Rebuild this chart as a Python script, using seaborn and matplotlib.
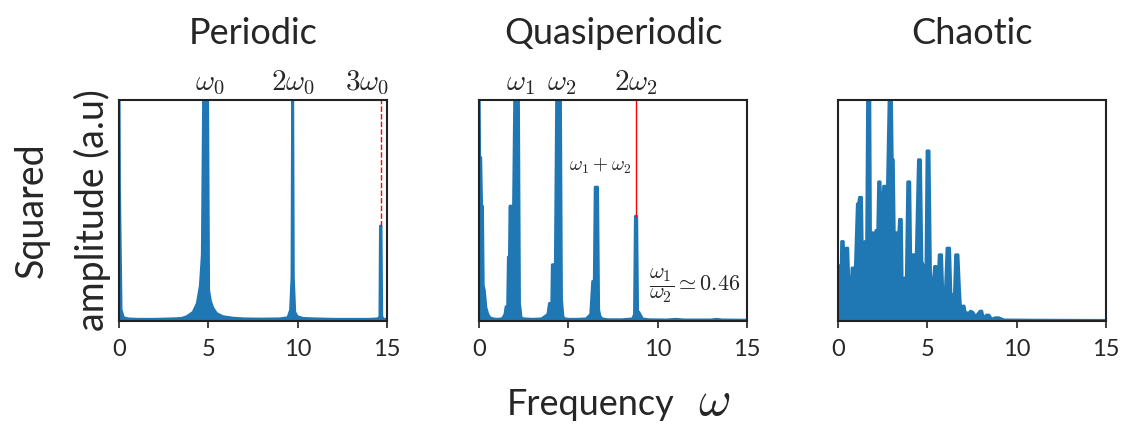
import matplotlib
matplotlib.use("Agg")
import matplotlib.pyplot as plt
import seaborn as sns
import numpy as np

# ---------------- data ----------------
titles = ["Periodic", "Quasiperiodic", "Chaotic"]
xticks = [0, 5, 10, 15]

periodic_freq = [0.0, 0.03, 0.12, 0.25, 0.5, 1.0, 2.0, 3.0, 3.5, 3.8, 4.15, 4.38, 4.55, 4.66, 4.75,
                 4.82, 4.9, 4.95, 5.02, 5.12, 5.25, 5.45, 5.8, 6.4, 7.0, 8.0, 9.0, 9.45, 9.6, 9.68,
                 9.72, 9.76, 9.84, 9.98, 10.3, 11.0, 12.0, 13.0, 14.0, 14.5, 14.6, 14.63, 14.67,
                 14.71, 14.8, 15.0]
periodic_amp = [1.2, 0.6, 0.05, 0.015, 0.01, 0.008, 0.008, 0.01, 0.012, 0.02, 0.04, 0.08, 0.16,
                0.3, 1.2, 1.2, 1.2, 1.2, 0.14, 0.09, 0.06, 0.035, 0.02, 0.013, 0.01, 0.009, 0.01,
                0.015, 0.05, 0.2, 1.2, 0.2, 0.04, 0.02, 0.012, 0.01, 0.008, 0.008, 0.008, 0.01,
                0.02, 0.43, 0.43, 0.02, 0.008, 0.008]

quasi_freq = [0.0, 0.04, 0.1, 0.15, 0.2, 0.24, 0.3, 0.39, 0.5, 0.61, 0.8, 1.0, 1.3, 1.45, 1.51,
              1.6, 1.64, 1.7, 1.73, 1.93, 2.02, 2.2, 2.27, 2.36, 2.5, 3.0, 3.5, 3.85, 3.94, 4.07,
              4.1, 4.27, 4.36, 4.55, 4.62, 4.7, 4.8, 5.0, 5.5, 6.0, 6.25, 6.36, 6.45, 6.5, 6.64,
              6.7, 6.78, 6.9, 7.2, 8.0, 8.6, 8.7, 8.75, 8.83, 8.88, 8.95, 9.15, 9.5, 10.5, 11.0,
              11.5, 13.0, 13.3, 13.6, 15.0]
quasi_amp = [1.2, 0.74, 0.74, 0.52, 0.52, 0.16, 0.14, 0.06, 0.03, 0.015, 0.01, 0.008, 0.01, 0.03,
             0.065, 0.065, 0.29, 0.29, 0.52, 0.52, 1.2, 1.2, 0.08, 0.015, 0.01, 0.008, 0.01,
             0.03, 0.08, 0.08, 0.255, 0.255, 1.2, 1.2, 0.1, 0.02, 0.01, 0.008, 0.008, 0.01, 0.03,
             0.18, 0.18, 0.606, 0.606, 0.05, 0.02, 0.01, 0.006, 0.006, 0.01, 0.03, 0.474, 0.474,
             0.04, 0.04, 0.01, 0.006, 0.005, 0.008, 0.005, 0.005, 0.008, 0.005, 0.004]

chaotic_freq = [0.0, 0.02, 0.1, 0.14, 0.2, 0.3, 0.35, 0.45, 0.55, 0.6, 0.66, 0.72, 0.78, 0.9,
                0.95, 1.08, 1.15, 1.2, 1.32, 1.38, 1.5, 1.6, 1.66, 1.78, 1.82, 1.95, 2.0, 2.12,
                2.22, 2.27, 2.36, 2.42, 2.55, 2.66, 2.72, 2.88, 2.98, 3.04, 3.1, 3.16, 3.28, 3.4,
                3.44, 3.55, 3.6, 3.72, 3.82, 3.9, 4.02, 4.08, 4.15, 4.28, 4.35, 4.5, 4.62, 4.7,
                4.8, 4.92, 4.98, 5.1, 5.18, 5.28, 5.4, 5.5, 5.58, 5.66, 5.8, 5.88, 6.0, 6.1,
                6.25, 6.32, 6.5, 6.58, 6.72, 6.8, 6.88, 6.98, 7.06, 7.12, 7.3, 7.42, 7.55, 7.7,
                7.95, 8.05, 8.15, 8.3, 8.45, 8.6, 8.8, 9.0, 9.3, 11.0, 15.0]
chaotic_amp = [0.02, 0.25, 0.25, 0.06, 0.36, 0.36, 0.22, 0.33, 0.33, 0.2, 0.05, 0.13, 0.24, 0.24,
               0.2, 0.53, 0.53, 0.56, 0.56, 0.23, 0.36, 0.36, 1.1, 1.1, 0.4, 0.4, 0.37, 0.41,
               0.41, 0.63, 0.63, 0.41, 0.61, 0.61, 0.42, 1.1, 1.1, 0.73, 0.73, 0.35, 0.40, 0.40,
               0.46, 0.46, 0.15, 0.195, 0.195, 0.63, 0.63, 0.24, 0.30, 0.30, 0.21, 0.73, 0.73,
               0.27, 0.247, 0.247, 0.77, 0.77, 0.22, 0.11, 0.247, 0.247, 0.12, 0.30, 0.30, 0.10,
               0.12, 0.33, 0.33, 0.13, 0.09, 0.30, 0.30, 0.15, 0.035, 0.068, 0.068, 0.04, 0.035,
               0.045, 0.04, 0.02, 0.045, 0.045, 0.01, 0.027, 0.027, 0.008, 0.015, 0.015, 0.005,
               0.004, 0.003]

# harmonic labels: (text, frequency)
periodic_labels = [(r"$\omega_0$", 5.07), (r"$2\omega_0$", 9.74), (r"$3\omega_0$", 13.9)]
quasi_labels = [(r"$\omega_1$", 2.3), (r"$\omega_2$", 4.6), (r"$2\omega_2$", 8.8)]
# red guide lines: (frequency, lower amplitude)
periodic_guide = (14.65, 0.43)
quasi_guide = (8.79, 0.474)
sum_label = (r"$\omega_1+\omega_2$", 8.5, 0.70)
ratio_label = (r"$\dfrac{\omega_1}{\omega_2}\simeq 0.46$", 9.5, 0.16)

# ---------------- style ----------------
sns.set_theme(style="ticks")
plt.rcParams["font.family"] = ["Lato", "DejaVu Sans"]
plt.rcParams["mathtext.fontset"] = "cm"
blue = "#1f77b4"

fig = plt.figure(figsize=(11.31, 4.30), dpi=100)
W, H = 1131, 430
lefts = [119, 479, 838]
axes = [fig.add_axes([l / W, (430 - 321) / H, 268 / W, 221 / H]) for l in lefts]

series = [(periodic_freq, periodic_amp), (quasi_freq, quasi_amp), (chaotic_freq, chaotic_amp)]
for ax, (fx, fy), title in zip(axes, series, titles):
    ax.fill_between(fx, fy, 0, color=blue, lw=0)
    sns.lineplot(x=fx, y=fy, ax=ax, color=blue, lw=2.0, estimator=None, sort=False)
    ax.set_xlim(0, 15)
    ax.set_ylim(0, 1)
    ax.set_xticks(xticks)
    ax.set_xticklabels([str(t) for t in xticks])
    ax.set_yticks([])
    ax.tick_params(axis="x", labelsize=17, length=5, width=1.2, pad=8, color="#222222")
    for s in ax.spines.values():
        s.set_linewidth(1.5)
        s.set_color("#222222")
    ax.set_title(title, fontsize=26, pad=40)

for ax, labels in zip(axes[:2], [periodic_labels, quasi_labels]):
    for txt, fx in labels:
        ax.text(fx, 1.015, txt, transform=ax.get_xaxis_transform(), ha="center", va="bottom",
                fontsize=21)

axes[0].axvline(periodic_guide[0], ymin=periodic_guide[1], ymax=1, color="red", lw=1.0,
                ls=(0, (4, 1.5)))
axes[1].axvline(quasi_guide[0], ymin=quasi_guide[1], ymax=1, color="red", lw=1.0)
axes[1].text(sum_label[1], sum_label[2], sum_label[0], ha="right", va="center", fontsize=14)
axes[1].text(ratio_label[1], ratio_label[2], ratio_label[0], ha="left", va="center", fontsize=16)

axes[0].set_ylabel("Squared\namplitude (a.u)", fontsize=27, labelpad=6, linespacing=1.8)

fig.text(675 / W, 15 / H, "Frequency", ha="right", va="baseline", fontsize=26)
fig.text(698 / W, 15 / H, r"$\omega$", ha="left", va="baseline", fontsize=36)

fig.savefig("out.png", dpi=100)
